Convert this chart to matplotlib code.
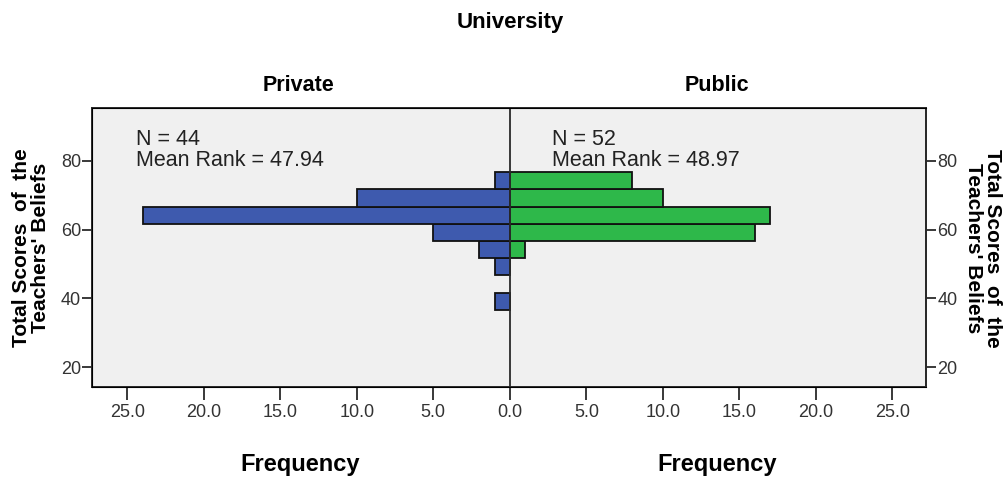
import matplotlib
matplotlib.use("Agg")
from matplotlib import pyplot as plt
import numpy as np

plt.rcParams['font.family'] = ['Liberation Sans', 'DejaVu Sans']

# score bins (centres, width 5) and frequencies per university type
bin_centers = [39.2, 44.2, 49.2, 54.2, 59.2, 64.2, 69.2, 74.2]
private_freq = [1, 0, 1, 2, 5, 24, 10, 1]
public_freq = [0, 0, 0, 1, 16, 17, 10, 8]
x_ticks = [-25, -20, -15, -10, -5, 0, 5, 10, 15, 20, 25]
y_ticks = [20, 40, 60, 80]
private_note = "N = 44\nMean Rank = 47.94"
public_note = "N = 52\nMean Rank = 48.97"

blue = "#3E5AAE"
green = "#2EB84A"
bg = "#F0F0F0"
dark = "#2a2a2a"

fig = plt.figure(figsize=(10.08, 4.79), dpi=100)
ax = fig.add_axes([0.0913, 0.192, 0.8274, 0.5825])
ax.set_facecolor(bg)

centers = np.array(bin_centers)
priv = np.array(private_freq)
pub = np.array(public_freq)
ax.barh(centers[priv > 0], -priv[priv > 0], height=5, color=blue,
        edgecolor="#111111", linewidth=1.3, zorder=2)
ax.barh(centers[pub > 0], pub[pub > 0], height=5, color=green,
        edgecolor="#111111", linewidth=1.3, zorder=2)
ax.axvline(0, color=dark, linewidth=1.3, zorder=3)

ax.set_xlim(-27.3, 27.2)
ax.set_ylim(14.2, 95.4)
ax.set_xticks(x_ticks)
ax.set_xticklabels(["%.1f" % abs(v) for v in x_ticks])
ax.set_yticks(y_ticks)
for s in ax.spines.values():
    s.set_color(dark)
    s.set_linewidth(1.4)
ax.tick_params(axis="x", length=9, width=1.3, color=dark, pad=3,
               labelsize=13, labelcolor="#333333")
ax.tick_params(axis="y", length=7, width=1.3, color=dark, pad=1,
               labelsize=13, labelcolor="#333333")

ax2 = ax.twinx()
ax2.set_ylim(ax.get_ylim())
ax2.set_yticks(y_ticks)
ax2.spines["right"].set_color(dark)
ax2.spines["right"].set_linewidth(1.4)
ax2.tick_params(axis="y", length=7, width=1.3, color=dark, pad=1,
                labelsize=13, labelcolor="#333333")

ax.text(-24.4, 89.4, private_note, fontsize=15.5, va="top", ha="left",
        color="#222222", linespacing=1.0, zorder=4)
ax.text(2.75, 89.4, public_note, fontsize=15.5, va="top", ha="left",
        color="#222222", linespacing=1.0, zorder=4)

ylab = "Total Scores  of  the\nTeachers' Beliefs"
fig.text(0.031, 0.482, ylab, rotation=90, ha="center", va="center",
         fontsize=15, fontweight="bold", linespacing=1.0)
fig.text(0.975, 0.482, ylab, rotation=270, ha="center", va="center",
         fontsize=15, fontweight="bold", linespacing=1.0)

fig.text(0.506, 0.953, "University", ha="center", va="center",
         fontsize=16, fontweight="bold")
fig.text(0.296, 0.822, "Private", ha="center", va="center",
         fontsize=15.5, fontweight="bold")
fig.text(0.711, 0.822, "Public", ha="center", va="center",
         fontsize=15.5, fontweight="bold")
fig.text(0.298, 0.03, "Frequency", ha="center", va="center",
         fontsize=17, fontweight="bold")
fig.text(0.711, 0.03, "Frequency", ha="center", va="center",
         fontsize=17, fontweight="bold")

plt.savefig("out.png", dpi=100)
plt.close()
